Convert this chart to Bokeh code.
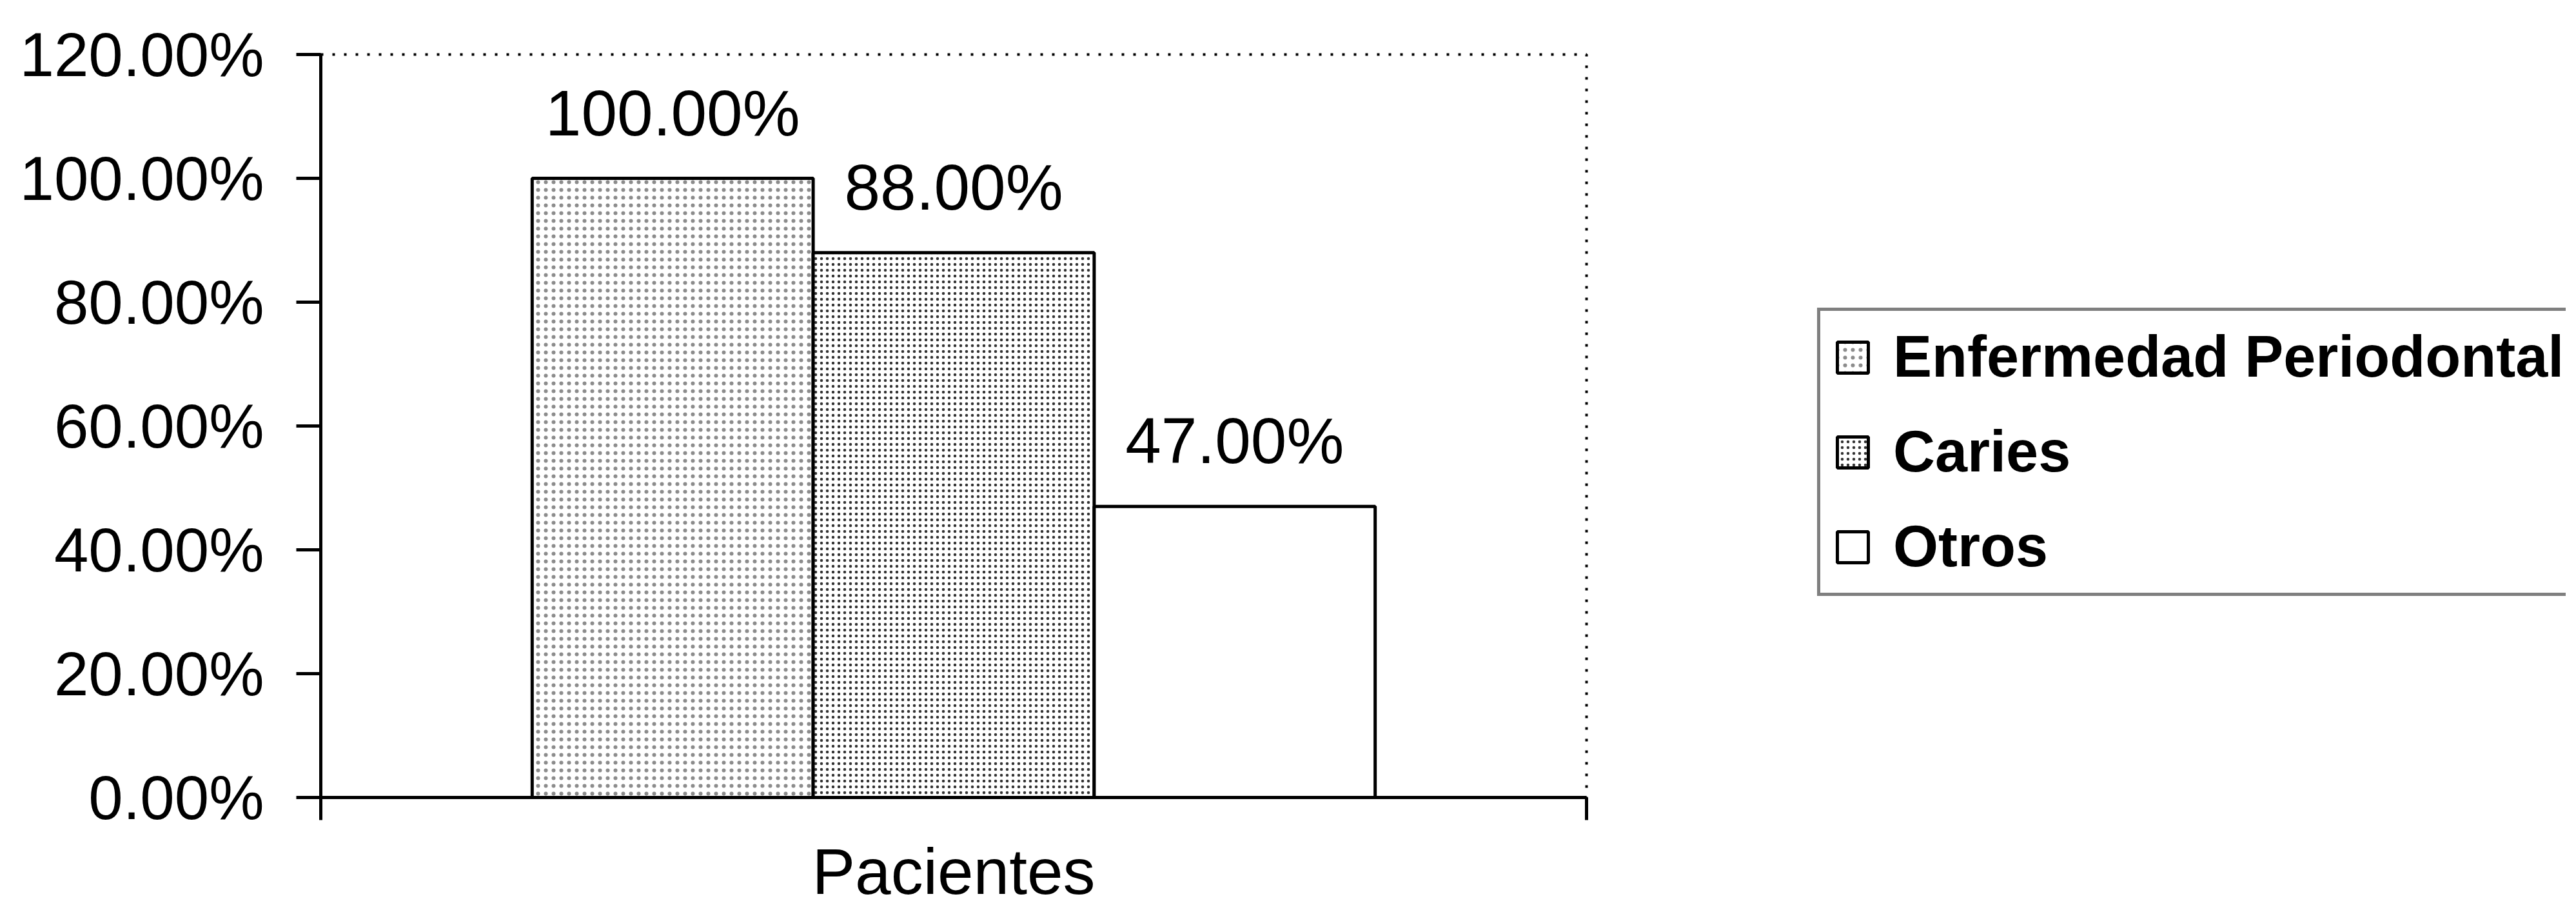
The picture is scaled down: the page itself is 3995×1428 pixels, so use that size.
from bokeh.plotting import figure
from bokeh.layouts import row
from bokeh.models import (Range1d, FixedTicker, NumeralTickFormatter, CustomJSTickFormatter,
                          Legend, LegendItem, ColumnDataSource)
from bokeh.embed import file_html
from bokeh.resources import INLINE
from bokeh.core.properties import value

# ---- data ----
GROUPS = ["Pacientes"]
SERIES = ["Enfermedad Periodontal", "Caries", "Otros"]
VALUES = [1.00, 0.88, 0.47]
Y_TICKS = [0.0, 0.2, 0.4, 0.6, 0.8, 1.0, 1.2]

# ---- styles ----
HATCH = [dict(hatch_pattern="dot", hatch_scale=12, hatch_alpha=0.45),
         dict(hatch_pattern="dot", hatch_scale=9, hatch_alpha=0.8),
         dict(hatch_pattern=None)]
BAR_STYLE = dict(fill_color="white", line_color="black", line_width=5, hatch_color="black")
FONT = "Liberation Sans"
BAR_W = 0.222

H = 1412
ng = len(GROUPS)
p = figure(width=2466, height=H, output_backend="svg", toolbar_location=None, tools="",
           x_range=Range1d(0, ng), y_range=Range1d(0, 1.2),
           min_border_left=497, min_border_top=84, min_border_bottom=176, min_border_right=6)
p.background_fill_color = "white"
p.border_fill_color = "white"
p.outline_line_color = "black"
p.outline_line_width = 4
p.outline_line_dash = "4 14"
p.xgrid.grid_line_color = None
p.ygrid.grid_line_color = None

# y axis
ya = p.yaxis[0]
ya.ticker = FixedTicker(ticks=Y_TICKS)
ya.formatter = NumeralTickFormatter(format="0.00%")
ya.axis_line_width = 5
ya.axis_line_color = "black"
ya.major_tick_line_width = 5
ya.major_tick_out = 38
ya.major_tick_in = 0
ya.minor_tick_line_color = None
ya.major_label_standoff = 50
ya.major_label_text_font = FONT
ya.major_label_text_font_size = "96px"
ya.major_label_text_color = "black"

# x axis: category name at the band centre (no tick there), tick marks at the band edges
xa = p.xaxis[0]
xa.ticker = FixedTicker(ticks=[gi + 0.5 for gi in range(ng)], minor_ticks=list(range(ng + 1)))
xa.formatter = CustomJSTickFormatter(args=dict(names=GROUPS),
                                     code="return names[Math.floor(tick)] || '';")
xa.axis_line_width = 5
xa.axis_line_color = "black"
xa.major_tick_line_color = None
xa.major_tick_out = 0
xa.major_tick_in = 0
xa.minor_tick_line_color = "black"
xa.minor_tick_line_width = 5
xa.minor_tick_out = 0
xa.minor_tick_in = -35
xa.major_label_standoff = 58
xa.major_label_text_font = FONT
xa.major_label_text_font_size = "100px"
xa.major_label_text_color = "black"

n = len(SERIES)
sources = []
for i, (name, v) in enumerate(zip(SERIES, VALUES)):
    off = (i - (n - 1) / 2) * BAR_W
    xs = [gi + 0.5 + off for gi in range(ng)]
    src = ColumnDataSource(dict(x=xs, val=[v], lbl=[f"{v:.2%}"]))
    sources.append(src)
    p.vbar(x="x", top="val", bottom=0, width=BAR_W, source=src, **BAR_STYLE, **HATCH[i])
    p.text(x="x", y="val", text="lbl", source=src,
           text_align="center", text_baseline="alphabetic", y_offset=-102,
           text_font=value(FONT), text_font_size="100px", text_color="black")

# ---- legend panel (separate canvas to the right of the chart) ----
pl = figure(width=1513, height=H, output_backend="svg", toolbar_location=None, tools="",
            x_range=Range1d(0, ng), y_range=Range1d(0, 1.2),
            x_axis_location=None, y_axis_location=None,
            min_border_left=0, min_border_right=0, min_border_top=0, min_border_bottom=0)
pl.outline_line_color = None
pl.xgrid.grid_line_color = None
pl.ygrid.grid_line_color = None
pl.background_fill_color = "white"
pl.border_fill_color = "white"

items = []
for i, name in enumerate(SERIES):
    # same series and styles as the chart bars; hidden here, they only supply the legend swatch
    r = pl.vbar(x="x", top="val", bottom=0, width=BAR_W, source=sources[i],
                visible=False, **BAR_STYLE, **HATCH[i])
    items.append(LegendItem(label=name, renderers=[r]))

legend = Legend(items=items, location=(352, 312), orientation="vertical")
legend.border_line_color = "black"
legend.border_line_width = 5
legend.background_fill_color = "white"
legend.background_fill_alpha = 1.0
legend.inactive_fill_alpha = 0.0
legend.label_text_font = FONT
legend.label_text_font_size = "90px"
legend.label_text_font_style = "bold"
legend.label_text_color = "black"
legend.glyph_width = 60
legend.glyph_height = 60
legend.label_standoff = 33
legend.padding = 20
legend.spacing = 44
legend.margin = 0
pl.add_layout(legend)

layout = row(p, pl)
open("out.html", "w").write(file_html(layout, INLINE))
